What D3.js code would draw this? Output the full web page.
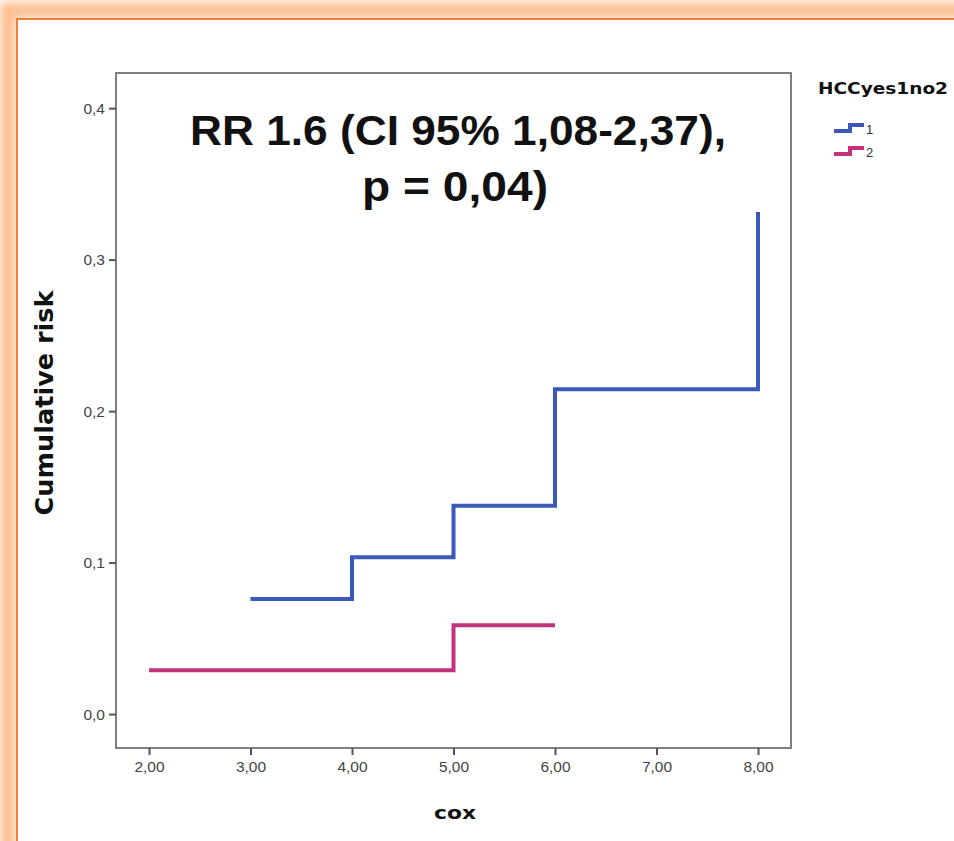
<!DOCTYPE html>
<html><head><meta charset="utf-8">
<script src="https://cdn.jsdelivr.net/npm/d3@7"></script>
<style>html,body{margin:0;padding:0;background:#fff;}svg{display:block;}</style>
</head><body>
<script>
const groups = ["1", "2"];
const times1 = [3, 4, 5, 6, 8];
const risk1 = [0.076, 0.1035, 0.1375, 0.2145, 0.3315];
const times2 = [2, 5, 6];
const risk2 = [0.029, 0.0587, 0.0587];
const xTicks = [2, 3, 4, 5, 6, 7, 8];
const yTicks = [0, 0.1, 0.2, 0.3, 0.4];
const colors = ["#3b58bb", "#c2337c"];

const W = 954, H = 841;
const svg = d3.select("body").append("svg").attr("width", W).attr("height", H);

// frame glow
const defs = svg.append("defs");
const f = defs.append("filter").attr("id", "blur").attr("x", "-10%").attr("y", "-10%").attr("width", "120%").attr("height", "120%");
f.append("feGaussianBlur").attr("stdDeviation", 5);
svg.append("rect").attr("x", 8).attr("y", 10).attr("width", 1100).attr("height", 1000)
  .attr("fill", "none").attr("stroke", "#fcbf90").attr("stroke-width", 16).attr("filter", "url(#blur)");
svg.append("rect").attr("x", 17).attr("y", 19).attr("width", 1100).attr("height", 1000)
  .attr("fill", "#fff").attr("stroke", "#f07f3a").attr("stroke-width", 2);

const pLeft = 116, pRight = 791, pTop = 73, pBottom = 748;
const x = d3.scaleLinear().domain([1.675, 8.325]).range([pLeft, pRight]);
const y = d3.scaleLinear().domain([-0.0224, 0.4232]).range([pBottom, pTop]);

// plot box
svg.append("rect").attr("x", pLeft).attr("y", pTop).attr("width", pRight - pLeft).attr("height", pBottom - pTop)
  .attr("fill", "none").attr("stroke", "#808080").attr("stroke-width", 2);

const fmtX = d => d3.format(".2f")(d).replace(".", ",");
const fmtY = d => d3.format(".1f")(d).replace(".", ",");

const xAxis = svg.append("g").attr("transform", `translate(0,${pBottom})`)
  .call(d3.axisBottom(x).tickValues(xTicks).tickFormat(fmtX).tickSize(7).tickPadding(6));
const yAxis = svg.append("g").attr("transform", `translate(${pLeft},0)`)
  .call(d3.axisLeft(y).tickValues(yTicks).tickFormat(fmtY).tickSize(7).tickPadding(4));
[xAxis, yAxis].forEach(a => {
  a.select(".domain").remove();
  a.selectAll(".tick line").attr("stroke", "#555").attr("stroke-width", 2);
  a.selectAll(".tick text").attr("fill", "#444").style("font-family", "Liberation Sans, Arial, sans-serif").style("font-size", "15.5px");
});

const line = d3.line().x(d => x(d[0])).y(d => y(d[1])).curve(d3.curveStepAfter);
const series = [d3.zip(times1, risk1), d3.zip(times2, risk2)];
series.forEach((s, i) => {
  svg.append("path").attr("d", line(s)).attr("fill", "none")
    .attr("stroke", colors[i]).attr("stroke-width", 4).attr("stroke-linejoin", "miter").attr("stroke-linecap", "butt");
});

// title
const tf = "Liberation Sans, Arial, sans-serif";
svg.append("text").attr("x", 458).attr("y", 145).attr("text-anchor", "middle")
  .style("font-family", tf).style("font-weight", "bold").style("font-size", "43px").attr("fill", "#111")
  .attr("textLength", 536).attr("lengthAdjust", "spacingAndGlyphs")
  .text("RR 1.6 (CI 95% 1,08-2,37),");
svg.append("text").attr("x", 455).attr("y", 201).attr("text-anchor", "middle")
  .style("font-family", tf).style("font-weight", "bold").style("font-size", "43px").attr("fill", "#111")
  .attr("textLength", 186).attr("lengthAdjust", "spacingAndGlyphs")
  .text("p = 0,04)");

// axis titles
svg.append("text").attr("transform", `translate(53,403) rotate(-90)`).attr("text-anchor", "middle")
  .style("font-family", "DejaVu Sans, sans-serif").style("font-weight", "bold").style("font-size", "24px").attr("fill", "#111")
  .attr("textLength", 225).attr("lengthAdjust", "spacingAndGlyphs")
  .text("Cumulative risk");
svg.append("text").attr("x", 455).attr("y", 819).attr("text-anchor", "middle")
  .style("font-family", "DejaVu Sans, sans-serif").style("font-weight", "bold").style("font-size", "18px").attr("fill", "#111")
  .attr("textLength", 42).attr("lengthAdjust", "spacingAndGlyphs")
  .text("cox");

// legend
svg.append("text").attr("x", 818).attr("y", 94)
  .style("font-family", "DejaVu Sans, sans-serif").style("font-weight", "bold").style("font-size", "16px").attr("fill", "#111")
  .attr("textLength", 130).attr("lengthAdjust", "spacingAndGlyphs")
  .text("HCCyes1no2");
const icon = d3.line().curve(d3.curveStepAfter);
groups.forEach((g, i) => {
  const yy = 131 + i * 23;
  svg.append("path").attr("d", icon([[834, yy], [850, yy - 6], [864, yy - 6]])).attr("fill", "none")
    .attr("stroke", colors[i]).attr("stroke-width", 4);
  svg.append("text").attr("x", 866).attr("y", yy + 3)
    .style("font-family", tf).style("font-size", "13px").attr("fill", "#333").text(g);
});
</script>
</body></html>
